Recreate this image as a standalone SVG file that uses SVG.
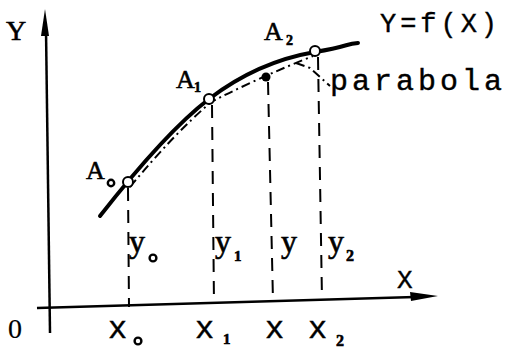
<svg xmlns="http://www.w3.org/2000/svg" width="506" height="350" viewBox="0 0 506 350">
<defs>
<style>
.ax{stroke:#000;stroke-width:2.5;fill:none}
.dash{stroke:#000;stroke-width:2;fill:none;stroke-dasharray:13 9}
.curve{stroke:#000;stroke-width:4;fill:none;stroke-linecap:round}
.para{stroke:#000;stroke-width:2;fill:none;stroke-dasharray:9 4 2 4}
.pt{fill:#fff;stroke:#000;stroke-width:2}
.sub{fill:none;stroke:#000;stroke-width:2.4}
text{fill:#000;stroke:#000;stroke-width:0.6}
.s{font-family:'Liberation Serif','DejaVu Serif',serif}
.m{font-family:'Liberation Mono','DejaVu Sans Mono',monospace;stroke-width:0.4}
</style>
</defs>
<rect width="506" height="350" fill="#fff"/>
<g id="axes">
<line class="ax" x1="50" y1="333" x2="46" y2="30"/>
<polygon points="45,9 41,36 49,36" fill="#000"/>
<line class="ax" x1="37" y1="308" x2="415" y2="297"/>
<polygon points="438,296 410,292 411,301" fill="#000"/>
<text class="s" x="6" y="40" font-size="28">Y</text>
<text class="s" x="8" y="338" font-size="28" style="stroke-width:0.2">0</text>
<text class="m" x="397" y="288" font-size="26">X</text>
</g>
<g id="connectors">
<line class="dash" x1="128" y1="188" x2="129" y2="307"/>
<line class="dash" x1="212" y1="105" x2="214" y2="304"/>
<line class="dash" x1="268" y1="82" x2="273" y2="301"/>
<line class="dash" x1="318" y1="57" x2="322" y2="299"/>
<path class="para" d="M130,187 Q172,136 211,102 Q258,78 313,56"/>
<path class="para" d="M296,63 L310,68 L330,86"/>
</g>
<g id="curve">
<path class="curve" d="M100,216 C140,165 175,125 209,99 S280,58 315,52 S345,44 358,43"/>
</g>
<g id="A0">
<circle class="pt" cx="128" cy="182" r="5"/>
<text class="s" x="86" y="179" font-size="26">A</text>
<circle class="sub" cx="111" cy="183" r="3.2"/>
</g>
<g id="A1">
<circle class="pt" cx="209" cy="99" r="5"/>
<text class="s" x="176" y="88" font-size="26">A</text>
<text class="s" x="194" y="92" font-size="14" font-weight="bold">1</text>
</g>
<g id="A2">
<circle class="pt" cx="315" cy="51" r="5"/>
<text class="s" x="264" y="40" font-size="26">A</text>
<text class="s" x="286" y="45" font-size="14" font-weight="bold">2</text>
</g>
<g id="P">
<circle cx="266" cy="77" r="4.5" fill="#000"/>
</g>
<g id="labels">
<text class="m" x="380" y="32" font-size="27" textLength="117" lengthAdjust="spacing">Y=f(X)</text>
<text class="m" x="330" y="90" font-size="30" textLength="172" lengthAdjust="spacing">parabola</text>
<text class="s" x="129" y="252" font-size="32">y</text>
<circle class="sub" cx="153" cy="258" r="3.4"/>
<text class="s" x="215" y="252" font-size="32">y</text>
<text class="s" x="234" y="261" font-size="15" font-weight="bold">1</text>
<text class="s" x="281" y="252" font-size="32">y</text>
<text class="s" x="328" y="252" font-size="32">y</text>
<text class="s" x="346" y="261" font-size="16" font-weight="bold">2</text>
<text class="m" x="108" y="338" font-size="32">x</text>
<circle class="sub" cx="138" cy="341" r="3.4"/>
<text class="m" x="195" y="338" font-size="32">x</text>
<text class="s" x="223" y="344" font-size="15" font-weight="bold">1</text>
<text class="m" x="265" y="338" font-size="32">x</text>
<text class="m" x="308" y="338" font-size="32">x</text>
<text class="s" x="336" y="346" font-size="16" font-weight="bold">2</text>
</g>
</svg>
